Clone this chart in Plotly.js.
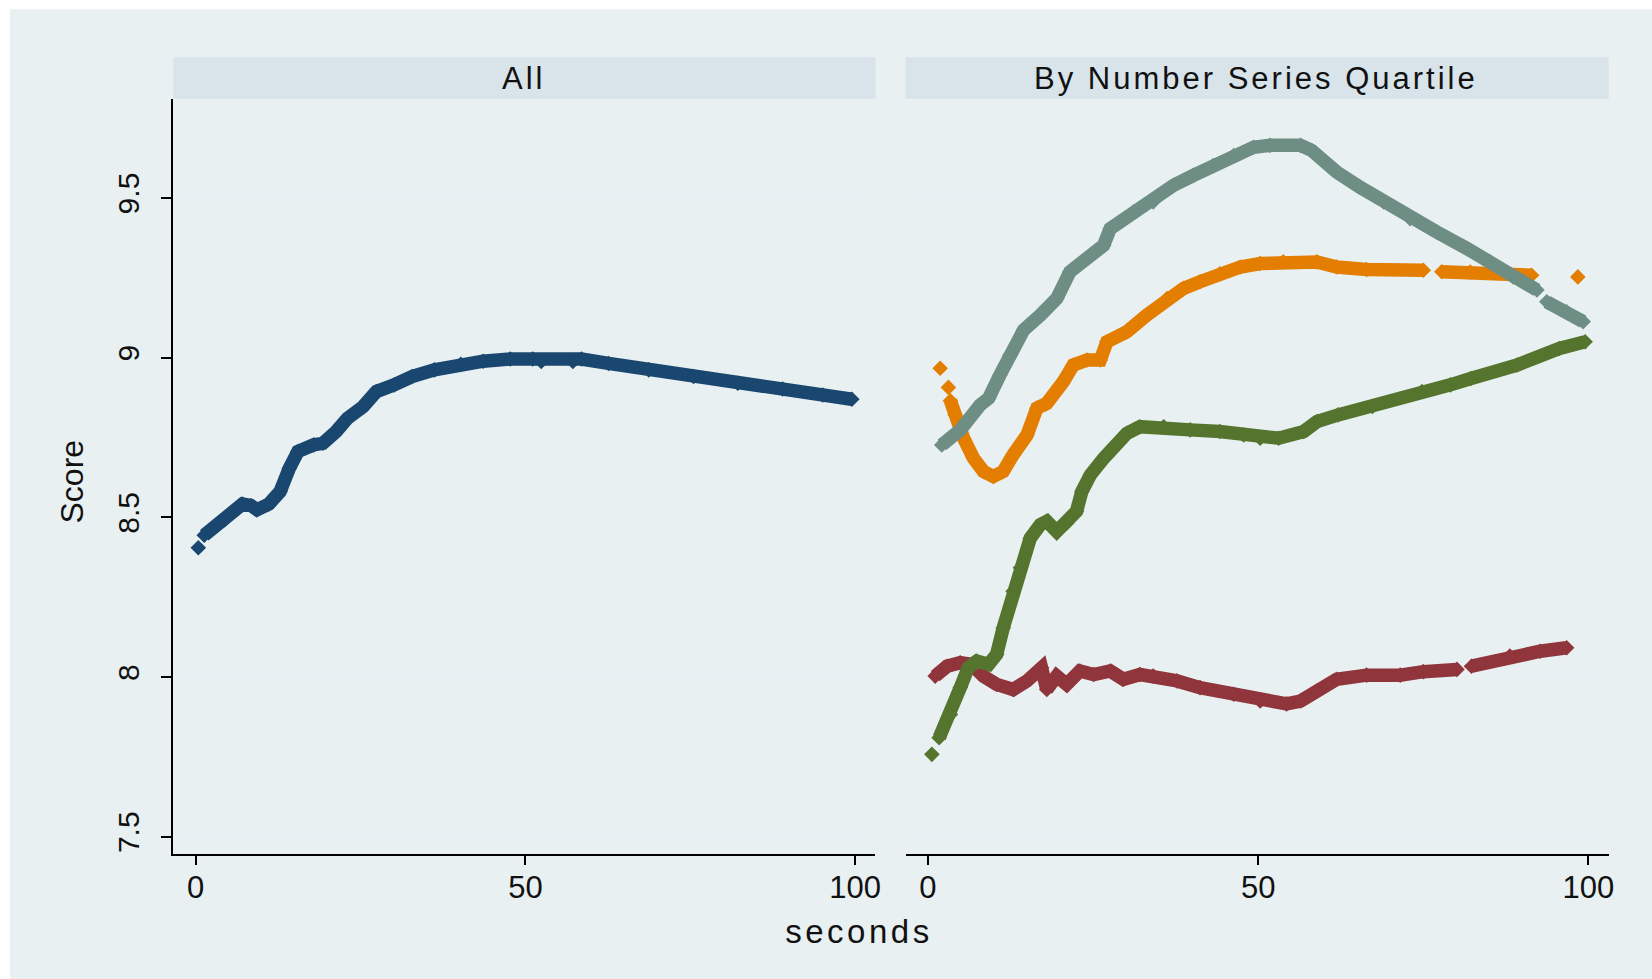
<!DOCTYPE html>
<html>
<head>
<meta charset="utf-8">
<script src="https://cdn.plot.ly/plotly-3.0.1.min.js"></script>
<style>
  html, body { margin: 0; padding: 0; background: #ffffff; }
  #chart { width: 1652px; height: 979px; }
  .annotation-text { letter-spacing: 3px; }
  .annotation[data-index="2"] .annotation-text { letter-spacing: 3.5px; }
  .annotation[data-index="3"] .annotation-text { letter-spacing: 0px; }
</style>
</head>
<body>
<div id="chart"></div>
<script>
// ---- Data ----
const panelTitles = ["All", "By Number Series Quartile"];
const xTickVals = [0, 50, 100];
const xTickText = ["0", "50", "100"];
const yTickVals = [7.5, 8, 8.5, 9, 9.5];
const yTickText = ["7.5", "8", "8.5", "9", "9.5"];

// Left panel: all subjects
const allX = [0.4, null, 1.3, 4.4, 7.1, 8.4, 9.3, 11.1, 12.8, 14.2, 15.5, 17.9, 19.3, 21.3, 23.0, 25.4, 27.4, 30.1, 32.8, 36.2, 40.2, 43.6, 47.7, 51.1, 52.4, 57.2, 58.5, 62.6, 68.7, 75.5, 82.2, 89.0, 95.1, 99.5];
const allY = [8.405, null, 8.444, 8.493, 8.542, 8.537, 8.524, 8.542, 8.581, 8.654, 8.706, 8.727, 8.732, 8.769, 8.810, 8.847, 8.894, 8.915, 8.941, 8.962, 8.979, 8.989, 8.996, 8.996, 8.988, 8.988, 8.996, 8.982, 8.962, 8.941, 8.920, 8.902, 8.883, 8.870];

// Right panel: quartiles
const q1X = [1.1, 2.9, 4.9, 6.6, 8.4, 10.4, 12.9, 15.0, 17.2, 18.0, 19.5, 21.0, 23.0, 25.1, 27.6, 29.6, 32.1, 34.1, 37.7, 41.2, 46.3, 50.3, 54.3, 56.4, 58.9, 61.9, 66.4, 71.5, 75.0, 80.1, null, 82.3, 88.1, 92.7, 96.7];
const q1Y = [8.003, 8.034, 8.045, 8.040, 8.003, 7.977, 7.961, 7.988, 8.029, 7.961, 8.003, 7.977, 8.019, 8.008, 8.019, 7.993, 8.008, 8.003, 7.988, 7.967, 7.946, 7.925, 7.916, 7.925, 7.956, 7.993, 8.006, 8.006, 8.017, 8.024, null, 8.034, 8.066, 8.081, 8.092];

const q2X = [0.6, null, 1.7, 3.4, 4.9, 6.1, 7.4, 9.2, 10.4, 11.4, 12.9, 14.0, 15.5, 17.0, 18.0, 19.5, 21.0, 22.5, 23.3, 24.6, 26.6, 28.1, 30.1, 32.1, 35.7, 39.7, 44.2, 47.8, 50.3, 53.1, 56.9, 58.9, 62.1, 67.3, 74.8, 79.1, 82.2, 89.2, 95.6, 99.5];
const q2Y = [7.758, null, 7.810, 7.883, 7.967, 8.029, 8.050, 8.040, 8.071, 8.154, 8.269, 8.342, 8.435, 8.477, 8.488, 8.456, 8.482, 8.519, 8.581, 8.633, 8.685, 8.717, 8.763, 8.784, 8.784, 8.774, 8.769, 8.758, 8.748, 8.748, 8.769, 8.800, 8.821, 8.847, 8.894, 8.915, 8.935, 8.977, 9.029, 9.050];

const q3X = [1.85, null, 3.1, null, 3.4, 4.1, 5.4, 6.9, 8.4, 9.9, 11.4, 12.9, 15.0, 16.5, 18.0, 20.5, 22.0, 24.1, 26.1, 27.1, 30.1, 33.1, 36.2, 38.7, 41.2, 44.2, 47.3, 50.3, 53.8, 58.9, 61.9, 66.4, 75.0, null, 77.8, 82.1, 86.0, 91.4, null, 98.4];
const q3Y = [8.967, null, 8.907, null, 8.865, 8.821, 8.748, 8.685, 8.644, 8.628, 8.644, 8.696, 8.758, 8.842, 8.857, 8.925, 8.977, 8.993, 8.993, 9.050, 9.081, 9.133, 9.185, 9.217, 9.238, 9.263, 9.284, 9.295, 9.300, 9.300, 9.284, 9.276, 9.274, null, 9.269, 9.268, 9.266, 9.258, null, 9.253];

const q4X = [2.1, 4.9, 7.9, 9.2, 10.9, 12.4, 14.5, 17.0, 19.5, 21.5, 24.6, 26.6, 27.6, 31.1, 34.1, 37.2, 40.2, 43.2, 46.3, 49.3, 51.8, 56.4, 58.1, 61.9, 65.4, 69.0, 73.0, 77.0, 81.6, 85.1, 88.6, 92.2, null, 93.7, 96.7, 99.2];
const q4Y = [8.727, 8.774, 8.852, 8.873, 8.946, 9.008, 9.087, 9.133, 9.185, 9.269, 9.321, 9.352, 9.404, 9.456, 9.488, 9.540, 9.571, 9.602, 9.633, 9.659, 9.665, 9.665, 9.649, 9.581, 9.534, 9.488, 9.435, 9.394, 9.342, 9.300, 9.253, 9.212, null, 9.175, 9.144, 9.113];

// ---- Styling ----
const FONT = "Liberation Sans, Arial, sans-serif";
const W = 1652, H = 979;
const px = v => v / W;
const py = v => (H - v) / H;

function series(x, y, color, xa, ya) {
  return {
    type: "scatter", mode: "lines+markers", x: x, y: y,
    xaxis: xa, yaxis: ya, connectgaps: false,
    line: { color: color, width: 13.5 },
    marker: { symbol: "diamond", size: 12, color: color, line: { width: 0 } },
    hoverinfo: "skip"
  };
}

const traces = [
  series(allX, allY, "#1A476F", "x", "y"),
  series(q1X, q1Y, "#90353B", "x2", "y2"),
  series(q2X, q2Y, "#55752F", "x2", "y2"),
  series(q3X, q3Y, "#E37E00", "x2", "y2"),
  series(q4X, q4Y, "#6E8E84", "x2", "y2")
];

const xRange = [-3.38, 103.07];
const yRange = [7.446, 9.811];
const yDomain = [py(854), py(98.7)];

const xCommon = {
  range: xRange, tickmode: "array", tickvals: xTickVals, ticktext: xTickText,
  showline: true, linecolor: "#000", linewidth: 2, mirror: false,
  ticks: "outside", ticklen: 9, tickwidth: 2, tickcolor: "#000",
  ticklabelstandoff: -4,
  showgrid: false, zeroline: false, automargin: false,
  tickfont: { family: FONT, size: 31, color: "#111" }
};
const yCommon = {
  range: yRange, domain: yDomain, tickmode: "array", tickvals: yTickVals, ticktext: yTickText,
  showgrid: true, gridcolor: "#E8F1F3", gridwidth: 1.5, zeroline: false, automargin: false
};

const layout = {
  width: W, height: H,
  margin: { l: 0, r: 0, t: 0, b: 0, pad: 0 },
  paper_bgcolor: "#ffffff", plot_bgcolor: "#ffffff",
  showlegend: false,
  font: { family: FONT, color: "#111" },
  xaxis: Object.assign({}, xCommon, { domain: [px(173.4), px(875.4)], anchor: "y" }),
  xaxis2: Object.assign({}, xCommon, { domain: [px(905.6), px(1608.7)], anchor: "y2" }),
  yaxis: Object.assign({}, yCommon, {
    anchor: "x", showline: true, linecolor: "#000", linewidth: 2,
    ticks: "outside", ticklen: 10, tickwidth: 2, tickcolor: "#000", tickangle: -90,
    ticklabelstandoff: 10,
    tickfont: { family: FONT, size: 30, color: "#111" }
  }),
  yaxis2: Object.assign({}, yCommon, {
    anchor: "x2", matches: "y", showline: false, ticks: "", showticklabels: false
  }),
  shapes: [
    { type: "rect", xref: "paper", yref: "paper", x0: px(10), x1: 1, y0: 0, y1: py(9.3),
      fillcolor: "#E8F0F2", line: { width: 0 }, layer: "below" },
    { type: "rect", xref: "paper", yref: "paper", x0: px(173.4), x1: px(875.4), y0: py(98.7), y1: py(57.3),
      fillcolor: "#D8E4EA", line: { width: 0 }, layer: "below" },
    { type: "rect", xref: "paper", yref: "paper", x0: px(905.6), x1: px(1608.7), y0: py(98.7), y1: py(57.3),
      fillcolor: "#D8E4EA", line: { width: 0 }, layer: "below" }
  ],
  annotations: [
    { text: panelTitles[0], xref: "paper", yref: "paper", x: px(523), y: py(78), xanchor: "center", yanchor: "middle",
      showarrow: false, font: { family: FONT, size: 31, color: "#111" } },
    { text: panelTitles[1], xref: "paper", yref: "paper", x: px(1256), y: py(78), xanchor: "center", yanchor: "middle",
      showarrow: false, font: { family: FONT, size: 31, color: "#111" } },
    { text: "seconds", xref: "paper", yref: "paper", x: px(859), y: py(931), xanchor: "center", yanchor: "middle",
      showarrow: false, font: { family: FONT, size: 33, color: "#111" } },
    { text: "Score", xref: "paper", yref: "paper", x: px(72), y: py(482), xanchor: "center", yanchor: "middle",
      textangle: -90, showarrow: false, font: { family: FONT, size: 32, color: "#111" } }
  ]
};

Plotly.newPlot("chart", traces, layout, { staticPlot: true, displayModeBar: false });
</script>
</body>
</html>
